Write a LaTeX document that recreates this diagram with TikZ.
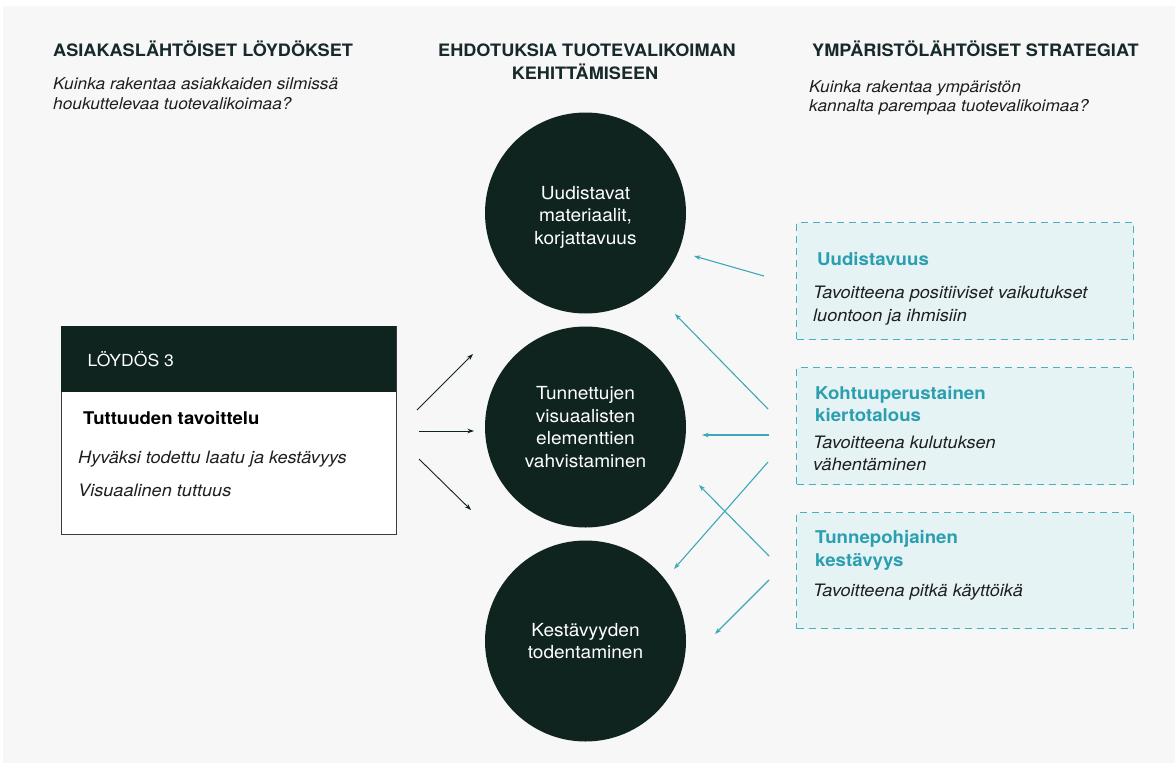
\documentclass[tikz,border=0pt]{standalone}
\usepackage{fontspec}
\setmainfont{TeX Gyre Heros}[FakeStretch=1.06]
\usetikzlibrary{arrows.meta}
\definecolor{ink}{HTML}{10241F}
\definecolor{panelgrey}{HTML}{F7F7F7}
\definecolor{headink}{HTML}{17292A}
\definecolor{bodyink}{HTML}{1E1E1E}
\definecolor{tealtitle}{HTML}{2B9EAF}
\definecolor{tealline}{HTML}{4AAFC0}
\definecolor{tealfill}{HTML}{E5F3F5}
\definecolor{arrowteal}{HTML}{3DA8B9}
\definecolor{boxline}{HTML}{3A3A3A}

\begin{document}
\begin{tikzpicture}[x=1pt,y=-1pt,
  txt/.style={inner sep=0pt, anchor=base west},
  head/.style={txt, font=\fontsize{17.1}{21}\selectfont\bfseries, text=headink},
  headc/.style={head, anchor=base},
  sub/.style={txt, font=\fontsize{16.3}{20}\selectfont\itshape, text=bodyink},
  bigdot/.style={circle, fill=ink, minimum size=201pt, inner sep=0pt, text=white,
    align=center, font=\fontsize{18}{22.5}\selectfont},
  dottext/.style={inner sep=0pt, text=white, align=center, font=\fontsize{18}{22.5}\selectfont},
  strat/.style={draw=tealline, fill=tealfill, line width=1.3pt, dash pattern=on 7pt off 5pt,
    minimum width=337pt, minimum height=117pt, anchor=north west, inner sep=0pt},
  stitle/.style={txt, font=\fontsize{17.6}{20}\selectfont\bfseries, text=tealtitle},
  sbody/.style={txt, font=\fontsize{17.1}{20}\selectfont\itshape, text=bodyink},
  darrow/.style={-{Stealth[length=6.5pt,width=4.5pt]}, line width=0.9pt, draw=ink},
  tarrow/.style={-{Stealth[length=6.5pt,width=4.5pt]}, line width=1.1pt, draw=arrowteal},
]
% canvas
\fill[white] (0,0) rectangle (1175,763);
\fill[panelgrey] (3,6) rectangle (1175,763);
\useasboundingbox (0,0) rectangle (1175,763);

% column headings
\node[head] (hl) at (53,56.5) {ASIAKASLÄHTÖISET LÖYDÖKSET};
\node[sub] (hl1) at (53,89) {Kuinka rakentaa asiakkaiden silmissä};
\node[sub] (hl2) at (53,109) {houkuttelevaa tuotevalikoimaa?};

\node[headc] (hc1) at (587,56.5) {EHDOTUKSIA TUOTEVALIKOIMAN};
\node[headc] (hc2) at (585,79.3) {KEHITTÄMISEEN};

\node[head] (hr) at (812,56.5) {YMPÄRISTÖLÄHTÖISET STRATEGIAT};
\node[sub] (hr1) at (809,92) {Kuinka rakentaa ympäristön};
\node[sub] (hr2) at (809,111.5) {kannalta parempaa tuotevalikoimaa?};

% proposals
\node[bigdot] (c1) at (585.5,213) {};
\node[dottext] (c1t) at ([yshift=-4pt]c1.center) {Uudistavat\\materiaalit,\\korjattavuus};
\node[bigdot] (c2) at (585.5,427) {Tunnettujen\\visuaalisten\\elementtien\\vahvistaminen};
\node[bigdot] (c3) at (585.5,641) {Kestävyyden\\todentaminen};

% finding card
\node[draw=boxline, line width=0.9pt, fill=white, minimum width=335pt, minimum height=208pt,
  anchor=north west, inner sep=0pt] (f3) at (61,326) {};
\node[fill=ink, minimum width=335pt, minimum height=66pt, anchor=north west, inner sep=0pt]
  (f3head) at (f3.north west) {};
\node[txt, font=\fontsize{16.6}{21}\selectfont, text=white] (f3t) at (87.5,366.5) {LÖYDÖS 3};
\node[txt, font=\fontsize{17.5}{21}\selectfont\bfseries, text=black] (f3a) at (83,424) {Tuttuuden tavoittelu};
\node[txt, font=\fontsize{17.1}{21}\selectfont\itshape, text=bodyink] (f3b) at (78,463) {Hyväksi todettu laatu ja kestävyys};
\node[txt, font=\fontsize{17.1}{21}\selectfont\itshape, text=bodyink] (f3c) at (78,496.5) {Visuaalinen tuttuus};

% strategies
\node[strat] (s1) at (796,222) {};
\node[stitle] (s1t) at (817,265) {Uudistavuus};
\node[sbody] (s1a) at (813,298.5) {Tavoitteena positiiviset vaikutukset};
\node[sbody] (s1b) at (813,321) {luontoon ja ihmisiin};

\node[strat] (s2) at (796,367) {};
\node[stitle] (s2t) at (815,399) {Kohtuuperustainen};
\node[stitle] (s2u) at (815,421) {kiertotalous};
\node[sbody] (s2a) at (813,448.5) {Tavoitteena kulutuksen};
\node[sbody] (s2b) at (813,470.5) {vähentäminen};

\node[strat, minimum height=116pt] (s3) at (796,512) {};
\node[stitle] (s3t) at (815,543.5) {Tunnepohjainen};
\node[stitle] (s3u) at (815,566) {kestävyys};
\node[sbody] (s3a) at (813,596.5) {Tavoitteena pitkä käyttöikä};

% connector ends
\coordinate (l1s) at (417,410);  \coordinate (l1e) at (473,354);
\coordinate (l2s) at (419,431);  \coordinate (l2e) at (474,431);
\coordinate (l3s) at (419,459);  \coordinate (l3e) at (471,510);

\coordinate (r1s) at (764,276);  \coordinate (r1e) at (694,256);
\coordinate (r2s) at (768,409);  \coordinate (r2e) at (675,314);
\coordinate (r3s) at (769,435);  \coordinate (r3e) at (702,435);
\coordinate (r4s) at (768,462);  \coordinate (r4e) at (674,569);
\coordinate (r5s) at (769,556);  \coordinate (r5e) at (699,485);
\coordinate (r6s) at (769,580);  \coordinate (r6e) at (715,634);

% finding -> proposals
\draw[darrow] (l1s) -- (l1e);
\draw[darrow] (l2s) -- (l2e);
\draw[darrow] (l3s) -- (l3e);

% strategies -> proposals
\draw[tarrow] (r1s) -- (r1e);
\draw[tarrow] (r2s) -- (r2e);
\draw[tarrow] (r3s) -- (r3e);
\draw[tarrow] (r4s) -- (r4e);
\draw[tarrow] (r5s) -- (r5e);
\draw[tarrow] (r6s) -- (r6e);
\end{tikzpicture}
\end{document}
